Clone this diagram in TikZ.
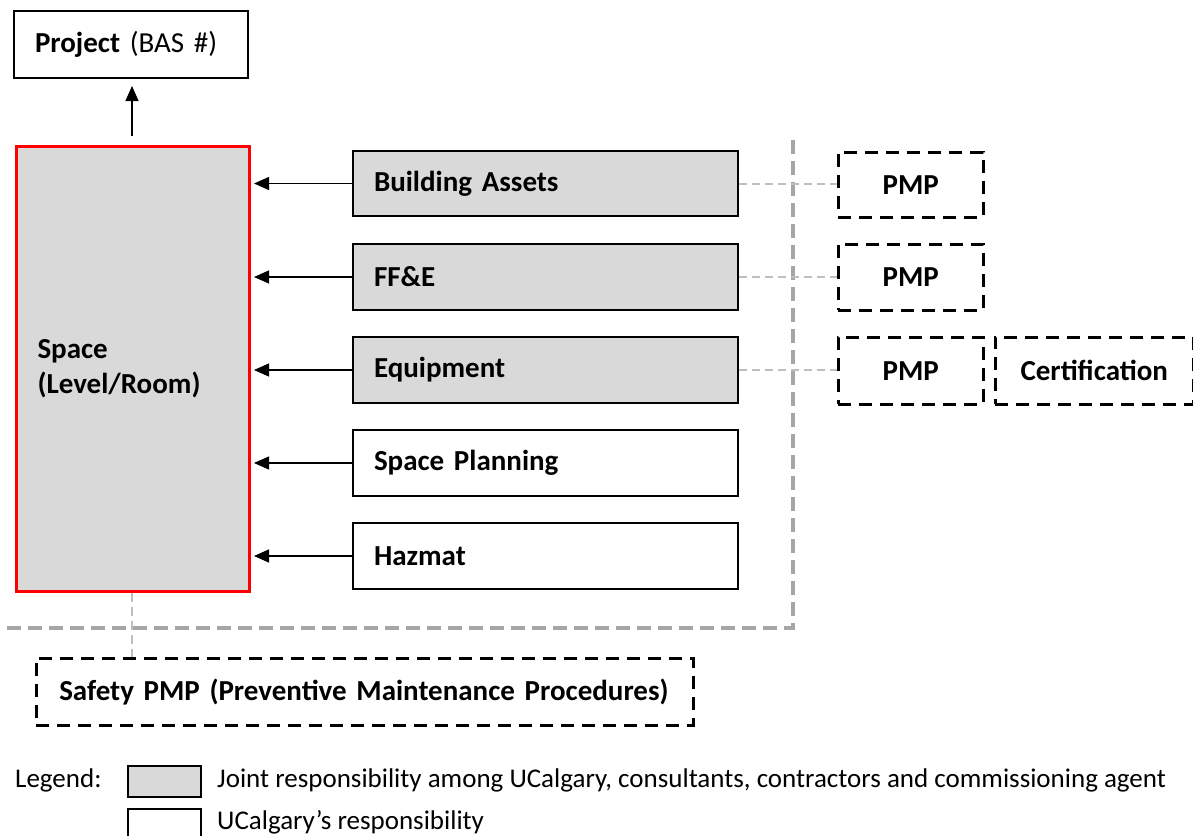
\documentclass[tikz,border=0pt]{standalone}
\usepackage{fontspec}
\setmainfont{Carlito}
\usetikzlibrary{arrows.meta}
\definecolor{boxgray}{HTML}{D9D9D9}
\definecolor{sepgray}{HTML}{A6A6A6}
\definecolor{linkgray}{HTML}{BFBFBF}
\tikzset{
  boxbase/.style={anchor=north west, inner ysep=0pt, font=\fontsize{29}{35}\selectfont\bfseries},
  solidbox/.style={boxbase, draw=black, line width=2pt, inner xsep=21pt, align=left},
  graybox/.style={solidbox, fill=boxgray},
  whitebox/.style={solidbox, fill=white},
  dashbox/.style={boxbase, draw=black, line width=2.5pt, dash pattern=on 13pt off 8pt, align=center, inner xsep=4pt},
  arr/.style={draw=black, line width=1.2pt, -{Triangle[length=15pt,width=13pt]}},
  link/.style={draw=linkgray, line width=2pt, dash pattern=on 8pt off 5pt},
  sep/.style={draw=sepgray, line width=4pt, dash pattern=on 14pt off 7pt},
  legtext/.style={anchor=west, inner sep=0pt, font=\fontsize{27}{32}\selectfont},
}
\begin{document}
\begin{tikzpicture}[x=1pt,y=-1pt]
\clip (0,0) rectangle (1193,835);
\fill[white] (0,0) rectangle (1193,835);

% Project
\node[whitebox, minimum width=234pt, minimum height=67pt, text width=192pt] (proj) at (13,10) {Project\mdseries\ (BAS \#)};

% Space
\node[boxbase, draw=red, line width=3pt, fill=boxgray, inner xsep=21pt, align=left, minimum width=233pt, minimum height=445pt, text width=191pt] (sp) at (15,145) {Space\\(Level/Room)};

% Right boxes
\node[graybox, minimum width=385pt, minimum height=65pt, text width=343pt] (ba) at (352,150) {Building Assets};
\node[graybox, minimum width=385pt, minimum height=66pt, text width=343pt] (ff) at (352,243) {FF\&E};
\node[graybox, minimum width=385pt, minimum height=66pt, text width=343pt] (eq) at (352,336) {Equipment};
\node[whitebox, minimum width=385pt, minimum height=66pt, text width=343pt] (spl) at (352,429) {Space Planning};
\node[whitebox, minimum width=385pt, minimum height=66pt, text width=343pt] (hz) at (352,522) {Hazmat};

% PMP boxes
\node[dashbox, minimum width=145pt, minimum height=65pt, text width=137pt] (p1) at (837,151) {PMP};
\node[dashbox, minimum width=145pt, minimum height=66pt, text width=137pt] (p2) at (837,243) {PMP};
\node[dashbox, minimum width=145pt, minimum height=67pt, text width=137pt] (p3) at (837,336) {PMP};
\node[dashbox, minimum width=198pt, minimum height=67pt, text width=190pt] (cert) at (994,336) {Certification};

% Safety
\node[dashbox, align=left, inner xsep=23pt, minimum width=657pt, minimum height=67pt, text width=611pt] (safe) at (35,657) {Safety PMP (Preventive Maintenance Procedures)};

% separator
\coordinate (s1) at (793,140);
\coordinate (s2) at (793,628);
\coordinate (s3) at (3,628);
\draw[sep] (s1) -- (s2) -- (s3);

% links
\draw[link] (ba.east) -- (p1.west |- ba.east);
\draw[link] (ff.east) -- (p2.west |- ff.east);
\draw[link] (eq.east) -- (p3.west |- eq.east);
\draw[draw=linkgray, line width=1.5pt, dash pattern=on 9pt off 5pt] ([xshift=-1pt]sp.south) -- ([xshift=-1pt]sp.south |- safe.north);

% arrows
\draw[arr, shorten <=9pt, shorten >=7pt] ([xshift=-1pt]sp.north) -- ([xshift=-1pt]sp.north |- proj.south);
\foreach \b in {ba,ff,eq,spl,hz}{
  \draw[arr, shorten >=3pt] (\b.west) -- (\b.west -| sp.east);
}

% legend
\node[legtext] (leg) at (15,780) {Legend:};
\node[draw=black, line width=2pt, fill=boxgray, anchor=north west, minimum width=73pt, minimum height=31pt, inner sep=0pt] (lg1) at (127,765) {};
\node[draw=black, line width=2pt, fill=white, anchor=north west, minimum width=73pt, minimum height=31pt, inner sep=0pt] (lg2) at (127,808) {};
\node[legtext] (lt1) at (217,780) {Joint responsibility among UCalgary, consultants, contractors and commissioning agent};
\node[legtext] (lt2) at (217,822) {UCalgary’s responsibility};
\end{tikzpicture}
\end{document}
